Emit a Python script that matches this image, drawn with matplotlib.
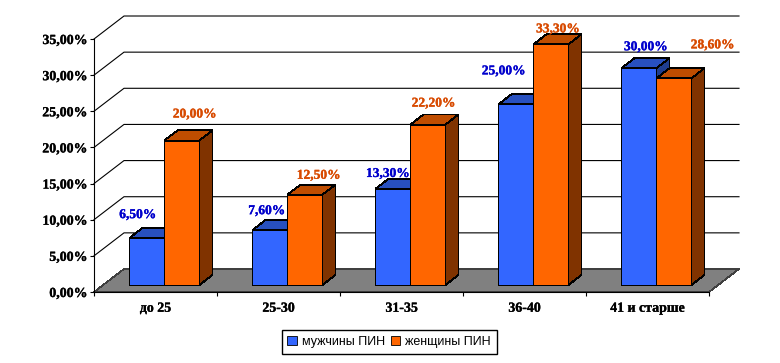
import matplotlib
matplotlib.use("Agg")
import matplotlib.pyplot as plt
import matplotlib.patheffects as pe
from matplotlib.patches import Patch, Polygon

categories = ["до 25", "25-30", "31-35", "36-40", "41 и старше"]
men = [6.5, 7.6, 13.3, 25.0, 30.0]
women = [20.0, 12.5, 22.2, 33.3, 28.6]
y_ticks = [0, 5, 10, 15, 20, 25, 30, 35]

# label offsets from the top of the front face centre, in pixels
men_offsets = [(-9, 23), (-3, 19), (-5, 15), (-12, 33), (7, 21)]
women_offsets = [(13, 26), (14, 19), (6, 21), (7, 15), (39, 33)]

blue = ("#3366FF", "#2850BF", "#1F3D8F")
orange = ("#FF6600", "#BF4D00", "#803300")

W, H = 780, 363
X0, X1, Y0, Y35 = 94, 709, 292, 39
BACK_DX = 30 / 123  # wall depth in categories
BACK_DY = 23 / 7.23  # wall depth in percent

plt.rcParams["font.family"] = ["Liberation Serif", "DejaVu Serif"]

fig = plt.figure(figsize=(W / 100, H / 100), dpi=100)
ax = fig.add_axes([X0 / W, 1 - Y0 / H, (X1 - X0) / W, (Y0 - Y35) / H])
ax.set_xlim(0, 5)
ax.set_ylim(0, 35)
ax.patch.set_visible(False)


def project(x, y, depth):
    return x + depth * BACK_DX, y + depth * BACK_DY


def heavy(color, width=0.2):
    return [pe.withStroke(linewidth=width, foreground=color)]


def draw_bar(x, width, value, colors):
    d0, d1 = 0.3, 0.74
    front = [project(x, 0, d0), project(x + width, 0, d0), project(x + width, value, d0), project(x, value, d0)]
    top = [project(x, value, d0), project(x + width, value, d0), project(x + width, value, d1), project(x, value, d1)]
    side = [project(x + width, 0, d0), project(x + width, 0, d1), project(x + width, value, d1), project(x + width, value, d0)]
    for pts, col in zip([side, top, front], [colors[2], colors[1], colors[0]]):
        ax.add_patch(Polygon(pts, closed=True, facecolor=col, edgecolor="black", lw=0.6,
                             clip_on=False, zorder=4, antialiased=False))


# floor and walls
floor = [project(0, 0, 0), project(5, 0, 0), project(5, 0, 1), project(0, 0, 1)]
ax.add_patch(Polygon(floor, closed=True, facecolor="#808080", edgecolor="#404040", lw=0.5,
                     clip_on=False, zorder=1, antialiased=False))
for t in y_ticks[1:]:
    bx, by = project(0, t, 1)
    ex, ey = project(5, t, 1)
    ax.plot([0, bx, ex], [t, by, ey], color="black", lw=0.8, clip_on=False, zorder=2)

# bars
bar_w = 35 / 123
for i in range(len(categories)):
    left = i + 35.3 / 123 - 0.3 * BACK_DX
    draw_bar(left, bar_w, men[i], blue)
    draw_bar(left + bar_w, bar_w, women[i], orange)
    for x, v, off, col in [(left + bar_w / 2, men[i], men_offsets[i], "#0000CC"),
                           (left + bar_w * 1.5, women[i], women_offsets[i], "#D84A00")]:
        ax.annotate(f"{v:.2f}%".replace(".", ","), project(x, v, 0.3), xytext=(off[0] * 0.72, off[1] * 0.72),
                    textcoords="offset points", ha="center", va="center", color=col,
                    fontsize=9.7, fontweight="bold", zorder=6, annotation_clip=False,
                    path_effects=heavy(col))

# axes
for s in ["top", "right"]:
    ax.spines[s].set_visible(False)
for s in ["left", "bottom"]:
    ax.spines[s].set_linewidth(0.8)
    ax.spines[s].set_zorder(3)
ax.set_yticks(y_ticks)
ax.set_yticklabels([f"{t:.2f}%".replace(".", ",") for t in y_ticks], fontsize=10, fontweight="bold",
                   path_effects=heavy("black"))
ax.set_xticks(range(6))
ax.set_xticklabels([])
ax.set_xticks([i + 0.5 for i in range(5)], minor=True)
ax.set_xticklabels(categories, minor=True, fontsize=10, fontweight="bold", path_effects=heavy("black"))
ax.tick_params(axis="y", length=3, width=0.8, pad=2)
ax.tick_params(axis="x", which="major", length=3, width=0.8)
ax.tick_params(axis="x", which="minor", length=0, pad=7)

handles = [Patch(facecolor=blue[0], edgecolor="black", lw=0.6, label="мужчины ПИН"),
           Patch(facecolor=orange[0], edgecolor="black", lw=0.6, label="женщины ПИН")]
fig.legend(handles=handles, loc="center", bbox_to_anchor=(389 / W, 1 - 342 / H), ncol=2, frameon=True,
           fancybox=False, edgecolor="black", framealpha=1, borderpad=0.45, handlelength=0.75, handleheight=0.75,
           handletextpad=0.4, columnspacing=0.5, prop={"family": "Liberation Sans", "size": 9})

fig.savefig("out.png", dpi=100)
